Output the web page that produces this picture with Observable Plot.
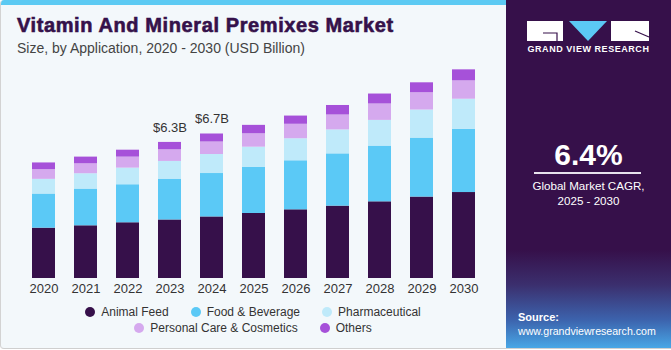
<!DOCTYPE html>
<html>
<head>
<meta charset="utf-8">
<script src="https://cdn.jsdelivr.net/npm/d3@7"></script>
<script src="https://cdn.jsdelivr.net/npm/@observablehq/plot@0.6"></script>
<style>
  html, body { margin: 0; padding: 0; background: #ffffff; }
  body { width: 671px; height: 350px; overflow: hidden; font-family: "Liberation Sans", Arial, sans-serif; }
  #frame { position: absolute; left: 0; top: 0; width: 670px; height: 348px; background: #f3f8fb;
           border-left: 1px solid #d3d3d3; border-bottom: 1px solid #cfcfcf; border-radius: 4px 0 0 4px; overflow: hidden; }
  #strip { position: absolute; left: 0; top: 0; width: 506px; height: 5px; background: #5ccaf3; }
  #title { position: absolute; left: 16px; top: 14px; font-size: 20px; font-weight: bold; color: #35114a;
           letter-spacing: 0.6px; -webkit-text-stroke: 0.6px #35114a; white-space: nowrap; }
  #subtitle { position: absolute; left: 16px; top: 40px; font-size: 14px; color: #444; white-space: nowrap; }
  #chart { position: absolute; left: 0; top: 0; }
  #legend { position: absolute; left: 0; top: 304px; width: 504px; font-size: 12px; color: #333; }
  .row { display: flex; justify-content: center; height: 16px; align-items: center; }
  .item { display: flex; align-items: center; margin: 0 11px; white-space: nowrap; }
  .dot { width: 10px; height: 10px; border-radius: 50%; margin-right: 6px; }
  #panel { position: absolute; left: 506px; top: 0; width: 165px; height: 348px;
           background: linear-gradient(to bottom, #36104a 0px, #36104a 250px, #3b2f6e 285px, #3c63ad 320px, #48a7e6 348px); color: #fff; }
  #gvr { position: absolute; left: 21px; top: 21px; }
  #gvrtext { position: absolute; left: 0; top: 44px; width: 165px; text-align: center; font-size: 9px; font-weight: bold; letter-spacing: 0.55px; }
  #cagr { position: absolute; left: 0; top: 138px; width: 165px; text-align: center; font-size: 30px; font-weight: bold; }
  #rule { position: absolute; left: 28px; top: 172px; width: 107px; height: 1.5px; background: #e8e3ee; }
  #cagrlab { position: absolute; left: 0; top: 178px; width: 165px; text-align: center; font-size: 11.6px; line-height: 15px; }
  #src { position: absolute; left: 12px; top: 310px; font-size: 10.6px; line-height: 14px; }
</style>
</head>
<body>
<div id="frame">
  <div id="strip"></div>
  <div id="chart"></div>
  <div id="title">Vitamin And Mineral Premixes Market</div>
  <div id="subtitle">Size, by Application, 2020 - 2030 (USD Billion)</div>
  <div id="legend"></div>
</div>
<div id="panel">
  <svg id="gvr" width="124" height="21" viewBox="0 0 124 21">
    <rect x="0" y="0" width="36" height="20" fill="#ffffff"/>
    <path d="M16 12 H30 V20" stroke="#36104a" stroke-width="1.2" fill="none"/>
    <polygon points="42,0 80,0 61,20" fill="#5bc8f5"/>
    <rect x="84" y="0" width="38" height="20" fill="#ffffff"/>
    <path d="M108 10 L122 16" stroke="#36104a" stroke-width="1.2" fill="none"/>
  </svg>
  <div id="gvrtext">GRAND VIEW RESEARCH</div>
  <div id="cagr">6.4%</div>
  <div id="rule"></div>
  <div id="cagrlab">Global Market CAGR,<br>2025 - 2030</div>
  <div id="src"><b style="font-size:11px">Source:</b><br>www.grandviewresearch.com</div>
</div>
<script>
const years = ["2020","2021","2022","2023","2024","2025","2026","2027","2028","2029","2030"];
const categories = ["Animal Feed","Food & Beverage","Pharmaceutical","Personal Care & Cosmetics","Others"];
const colors = ["#36104a","#5bc9f6","#bfeafa","#d5a9ee","#a651d9"];
const animalFeed    = [2.33, 2.44, 2.58, 2.71, 2.85, 3.01, 3.18, 3.35, 3.55, 3.77, 3.98];
const foodBeverage  = [1.58, 1.70, 1.76, 1.89, 2.01, 2.13, 2.27, 2.42, 2.58, 2.73, 2.93];
const pharmaceutical= [0.68, 0.71, 0.77, 0.82, 0.88, 0.94, 1.02, 1.11, 1.19, 1.30, 1.39];
const personalCare  = [0.45, 0.46, 0.51, 0.54, 0.58, 0.62, 0.67, 0.69, 0.76, 0.80, 0.85];
const others        = [0.31, 0.31, 0.32, 0.34, 0.37, 0.39, 0.38, 0.44, 0.46, 0.46, 0.51];
const labelYears = ["2023","2024"];
const labelTexts = ["$6.3B","$6.7B"];

const series = [animalFeed, foodBeverage, pharmaceutical, personalCare, others];
const rows = [];
categories.forEach((c, ci) => years.forEach((y, yi) => rows.push({year: y, category: c, value: series[ci][yi]})));
const totals = years.map((y, yi) => d3.sum(series, s => s[yi]));
const labels = labelYears.map((y, i) => ({year: y, total: totals[years.indexOf(y)], text: labelTexts[i]}));

const plot = Plot.plot({
  width: 506, height: 300,
  marginLeft: 12, marginRight: 13, marginTop: 62, marginBottom: 22,
  style: {fontFamily: "Liberation Sans, Arial, sans-serif", background: "transparent"},
  x: {domain: years, padding: 0.45, axis: null},
  y: {domain: [0, 10], axis: null},
  color: {domain: categories, range: colors},
  marks: [
    Plot.barY(rows, {x: "year", y: "value", fill: "category", order: categories}),
    Plot.axisX({tickSize: 0, tickPadding: 5, fontSize: 13, fill: "#333", label: null}),
    Plot.text(labels, {x: "year", y: "total", text: "text", dy: -15, fontSize: 13, fill: "#333"})
  ]
});
document.getElementById("chart").appendChild(plot);

const legend = document.getElementById("legend");
[[0,3],[3,5]].forEach(([a,b]) => {
  const row = document.createElement("div");
  row.className = "row";
  categories.slice(a,b).forEach((c, i) => {
    const item = document.createElement("div");
    item.className = "item";
    const dot = document.createElement("span");
    dot.className = "dot";
    dot.style.background = colors[a+i];
    const t = document.createElement("span");
    t.textContent = c;
    item.appendChild(dot); item.appendChild(t);
    row.appendChild(item);
  });
  legend.appendChild(row);
});
</script>
</body>
</html>
